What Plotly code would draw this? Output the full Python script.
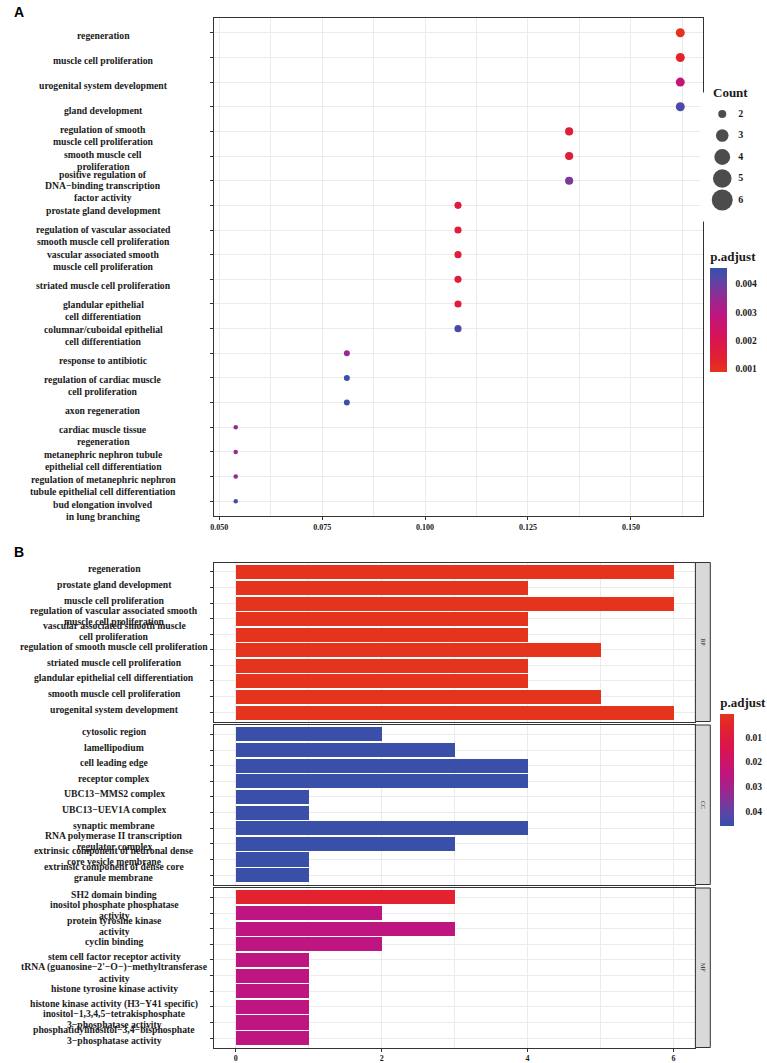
import plotly.graph_objects as go

W, H = 767, 1063

# ---------------- Panel A data (GO enrichment dot plot) ----------------
a_terms = [
    "regeneration",
    "muscle cell proliferation",
    "urogenital system development",
    "gland development",
    "regulation of smooth\nmuscle cell proliferation",
    "smooth muscle cell\nproliferation",
    "positive regulation of\nDNA\u2212binding transcription\nfactor activity",
    "prostate gland development",
    "regulation of vascular associated\nsmooth muscle cell proliferation",
    "vascular associated smooth\nmuscle cell proliferation",
    "striated muscle cell proliferation",
    "glandular epithelial\ncell differentiation",
    "columnar/cuboidal epithelial\ncell differentiation",
    "response to antibiotic",
    "regulation of cardiac muscle\ncell proliferation",
    "axon regeneration",
    "cardiac muscle tissue\nregeneration",
    "metanephric nephron tubule\nepithelial cell differentiation",
    "regulation of metanephric nephron\ntubule epithelial cell differentiation",
    "bud elongation involved\nin lung branching",
]
a_gene_ratio = [0.162, 0.162, 0.162, 0.162, 0.135, 0.135, 0.135,
                0.108, 0.108, 0.108, 0.108, 0.108, 0.108,
                0.081, 0.081, 0.081, 0.054, 0.054, 0.054, 0.054]
a_count = [6, 6, 6, 6, 5, 5, 5, 4, 4, 4, 4, 4, 4, 3, 3, 3, 2, 2, 2, 2]
a_padj = [0.0009, 0.00125, 0.0027, 0.0043, 0.0016, 0.0016, 0.0038,
          0.0016, 0.0016, 0.0016, 0.0016, 0.0016, 0.0043,
          0.0034, 0.0045, 0.0045, 0.0035, 0.0035, 0.0035, 0.0044]
a_xticks = [0.050, 0.075, 0.100, 0.125, 0.150]
a_legend_counts = [2, 3, 4, 5, 6]
a_padj_ticks = [0.001, 0.002, 0.003, 0.004]

# ---------------- Panel B data (bar chart, faceted) ----------------
bp_terms = [
    "regeneration",
    "prostate gland development",
    "muscle cell proliferation",
    "regulation of vascular associated smooth\nmuscle cell proliferation",
    "vascular associated smooth muscle\ncell proliferation",
    "regulation of smooth muscle cell proliferation",
    "striated muscle cell proliferation",
    "glandular epithelial cell differentiation",
    "smooth muscle cell proliferation",
    "urogenital system development",
]
bp_count = [6, 4, 6, 4, 4, 5, 4, 4, 5, 6]
bp_padj = [0.0006, 0.0006, 0.0006, 0.0006, 0.0006, 0.0006, 0.0006, 0.0006, 0.0006, 0.0006]

cc_terms = [
    "cytosolic region",
    "lamellipodium",
    "cell leading edge",
    "receptor complex",
    "UBC13\u2212MMS2 complex",
    "UBC13\u2212UEV1A complex",
    "synaptic membrane",
    "RNA polymerase II transcription\nregulator complex",
    "extrinsic component of neuronal dense\ncore vesicle membrane",
    "extrinsic component of dense core\ngranule membrane",
]
cc_count = [2, 3, 4, 4, 1, 1, 4, 3, 1, 1]
cc_padj = [0.0455, 0.0455, 0.0455, 0.0455, 0.0455, 0.0455, 0.0455, 0.0455, 0.0455, 0.0455]

mf_terms = [
    "SH2 domain binding",
    "inositol phosphate phosphatase\nactivity",
    "protein tyrosine kinase\nactivity",
    "cyclin binding",
    "stem cell factor receptor activity",
    "tRNA (guanosine\u22122'\u2212O\u2212)\u2212methyltransferase\nactivity",
    "histone tyrosine kinase activity",
    "histone kinase activity (H3\u2212Y41 specific)",
    "inositol\u22121,3,4,5\u2212tetrakisphosphate\n3\u2212phosphatase activity",
    "phosphatidylinositol\u22123,4\u2212bisphosphate\n3\u2212phosphatase activity",
]
mf_count = [3, 2, 3, 2, 1, 1, 1, 1, 1, 1]
mf_padj = [0.006, 0.0255, 0.0255, 0.0255, 0.0255, 0.0255, 0.0255, 0.0255, 0.0255, 0.0255]

facet_names = ["BP", "CC", "MF"]
b_xticks = [0, 2, 4, 6]
b_padj_ticks = [0.01, 0.02, 0.03, 0.04]

# ---------------- styling ----------------
SERIF = "Liberation Serif"
SANS = "Liberation Sans"
TXT = "#1a1a1a"
GRID = "#EBEBEB"
LINE = "#333333"
CS = [[0.0, '#E4341E'], [0.12, '#E2222F'], [0.3, '#DA1550'], [0.55, '#BE1580'],
      [0.75, '#8A3095'], [0.9, '#5548A8'], [1.0, '#3550A8']]
CS_REV = [[1 - f, c] for f, c in reversed(CS)]


def px(x):
    return x / W


def py(y):
    return 1 - y / H


def cat(s):
    return s.replace("\n", " ")


def dot_size(c):
    return (20.25 + 15.2 * (c - 2)) ** 0.5


def key_size(c):
    return (64 + 94 * (c - 2)) ** 0.5


fig = go.Figure()

# Panel A dots
fig.add_trace(go.Scatter(
    x=a_gene_ratio, y=[cat(t) for t in a_terms], mode="markers",
    marker=dict(size=[dot_size(c) for c in a_count], color=a_padj, opacity=1,
                coloraxis="coloraxis", line=dict(width=0)),
    xaxis="x", yaxis="y", showlegend=False, cliponaxis=False,
))

# Panel A count legend
fig.add_trace(go.Scatter(
    x=[22] * len(a_legend_counts), y=a_legend_counts, mode="markers",
    marker=dict(size=[key_size(c) for c in a_legend_counts], color="black", line=dict(width=0)),
    xaxis="x5", yaxis="y5", showlegend=False, cliponaxis=False,
))
fig.add_trace(go.Scatter(
    x=[38] * len(a_legend_counts), y=a_legend_counts, mode="text",
    text=[str(c) for c in a_legend_counts], textposition="middle right",
    textfont=dict(family=SERIF, size=10, color=TXT, weight="bold"),
    xaxis="x5", yaxis="y5", showlegend=False, cliponaxis=False,
))

# Panel B bars
facets = [(bp_terms, bp_count, bp_padj), (cc_terms, cc_count, cc_padj), (mf_terms, mf_count, mf_padj)]
for i, (terms, counts, padj) in enumerate(facets):
    ax = str(i + 2)
    fig.add_trace(go.Bar(
        x=counts, y=[cat(t) for t in terms], orientation="h", base=0, width=0.9,
        marker=dict(color=[-p for p in padj], coloraxis="coloraxis2", line=dict(width=0)),
        xaxis="x" + ax, yaxis="y" + ax, showlegend=False,
    ))

# ---------------- layout ----------------
axis_font = dict(family=SERIF, size=8, color=TXT, weight="bold")
label_font = dict(family=SERIF, size=9.7, color=TXT, weight="bold")

A_X = [px(211), px(703)]
A_Y = [py(516), py(18)]
B_X = [px(211), px(695)]
B_Y = [[py(721.5), py(562.5)], [py(884.5), py(725)], [py(1047.5), py(888)]]

layout = dict(
    width=W, height=H, margin=dict(l=0, r=0, t=0, b=0),
    paper_bgcolor="white", plot_bgcolor="white",
    bargap=0,
    xaxis=dict(domain=A_X, range=[0.0487, 0.1676], anchor="y",
               tickmode="array", tickvals=a_xticks, ticktext=["%.3f" % v for v in a_xticks],
               tickfont=axis_font, ticks="outside", ticklen=3, tickcolor=LINE,
               showline=True, mirror=True, linecolor=LINE, linewidth=1,
               showgrid=True, gridcolor=GRID, gridwidth=1, zeroline=False,
               minor=dict(tickmode="linear", tick0=0.0625, dtick=0.025, showgrid=True,
                          gridcolor=GRID, gridwidth=0.7)),
    yaxis=dict(domain=A_Y, anchor="x", type="category",
               categoryorder="array", categoryarray=[cat(t) for t in a_terms],
               range=[len(a_terms) - 0.4, -0.6], showticklabels=False,
               ticks="outside", ticklen=3, tickcolor=LINE,
               showline=True, mirror=True, linecolor=LINE, linewidth=1,
               showgrid=True, gridcolor=GRID, gridwidth=1, zeroline=False),
    xaxis5=dict(domain=[px(700), px(767)], range=[0, 67], anchor="y5", visible=False),
    yaxis5=dict(domain=[py(221.5), py(92.5)], range=[7, 1], anchor="x5", visible=False),
    coloraxis=dict(
        colorscale=CS, cmin=0.00089, cmax=0.00457,
        colorbar=dict(
            title=dict(text="p.adjust", side="top",
                       font=dict(family=SERIF, size=13, color=TXT, weight="bold")),
            x=px(710), xanchor="left", xpad=0, y=py(310), yanchor="middle", ypad=0,
            len=124, lenmode="pixels", thickness=17, thicknessmode="pixels",
            outlinewidth=0, tickmode="array", tickvals=a_padj_ticks,
            ticktext=["%.3f" % v for v in a_padj_ticks],
            ticks="outside", ticklen=7, tickcolor="white",
            tickfont=dict(family=SERIF, size=9.5, color=TXT, weight="bold"),
        ),
    ),
    coloraxis2=dict(
        colorscale=CS_REV, cmin=-0.046, cmax=-0.0005,
        colorbar=dict(
            title=dict(text="p.adjust", side="top",
                       font=dict(family=SERIF, size=13, color=TXT, weight="bold")),
            x=px(720), xanchor="left", xpad=0, y=py(760), yanchor="middle", ypad=0,
            len=132, lenmode="pixels", thickness=14, thicknessmode="pixels",
            outlinewidth=0, tickmode="array", tickvals=[-v for v in b_padj_ticks],
            ticktext=["%.2f" % v for v in b_padj_ticks],
            ticks="outside", ticklen=10, tickcolor="white",
            tickfont=dict(family=SERIF, size=9.5, color=TXT, weight="bold"),
        ),
    ),
)

for i, (terms, counts, padj) in enumerate(facets):
    ax = str(i + 2)
    is_last = i == len(facets) - 1
    layout["xaxis" + ax] = dict(
        domain=B_X, range=[-0.3, 6.3], anchor="y" + ax,
        tickmode="array", tickvals=b_xticks, ticktext=[str(v) for v in b_xticks],
        showticklabels=is_last, tickfont=axis_font,
        ticks="outside" if is_last else "", ticklen=3, tickcolor=LINE,
        showline=True, mirror=True, linecolor=LINE, linewidth=1,
        showgrid=True, gridcolor=GRID, gridwidth=1, zeroline=False,
        minor=dict(tickmode="linear", tick0=1, dtick=2, showgrid=True, gridcolor=GRID, gridwidth=0.7),
    )
    layout["yaxis" + ax] = dict(
        domain=B_Y[i], anchor="x" + ax, type="category",
        categoryorder="array", categoryarray=[cat(t) for t in terms],
        range=[len(terms) - 0.4, -0.6], showticklabels=False,
        ticks="outside", ticklen=3, tickcolor=LINE,
        showline=True, mirror=True, linecolor=LINE, linewidth=1,
        showgrid=True, gridcolor=GRID, gridwidth=1, zeroline=False,
    )

fig.update_layout(**layout)

annotations = []


def add_label(term, xcenter, yref, base_shift, line_gap):
    lines = term.split("\n")
    n = len(lines)
    for k, ln in enumerate(lines):
        annotations.append(dict(
            text=ln, x=xcenter, y=cat(term), xref="paper", yref=yref,
            xanchor="center", yanchor="middle", align="center", showarrow=False,
            font=label_font, yshift=base_shift + ((n - 1) / 2 - k) * line_gap))


# Panel letters
annotations.append(dict(text="A", x=px(8), y=py(12), xref="paper", yref="paper",
                        xanchor="left", yanchor="middle", showarrow=False,
                        font=dict(family=SANS, size=14, color="black", weight="bold")))
annotations.append(dict(text="B", x=px(8), y=py(552), xref="paper", yref="paper",
                        xanchor="left", yanchor="middle", showarrow=False,
                        font=dict(family=SANS, size=14, color="black", weight="bold")))
# Panel A y labels (centered)
for i, t in enumerate(a_terms):
    add_label(t, px(100), "y", -(3.0 + 0.33 * i), 11.5)
# Count legend title
annotations.append(dict(text="Count", x=px(711), y=py(92), xref="paper", yref="paper",
                        xanchor="left", yanchor="middle", showarrow=False,
                        font=dict(family=SERIF, size=13, color=TXT, weight="bold")))
# Panel B y labels + strips
shapes = []
for i, (terms, counts, padj) in enumerate(facets):
    ax = str(i + 2)
    for t in terms:
        add_label(t, px(111), "y" + ax, 3, 11)
    y0, y1 = B_Y[i]
    shapes.append(dict(type="rect", xref="paper", yref="paper", x0=px(695), x1=px(710),
                       y0=y0, y1=y1, fillcolor="#D9D9D9", line=dict(color=LINE, width=1)))
    annotations.append(dict(text=facet_names[i], x=px(702.5), y=(y0 + y1) / 2,
                            xref="paper", yref="paper", xanchor="center", yanchor="middle",
                            textangle=90, showarrow=False,
                            font=dict(family=SERIF, size=6, color=TXT)))

fig.update_layout(annotations=annotations, shapes=shapes)
fig.write_html("out.html", config={"displayModeBar": False},
               post_script="document.body.style.margin='0';document.body.style.overflow='hidden';")
